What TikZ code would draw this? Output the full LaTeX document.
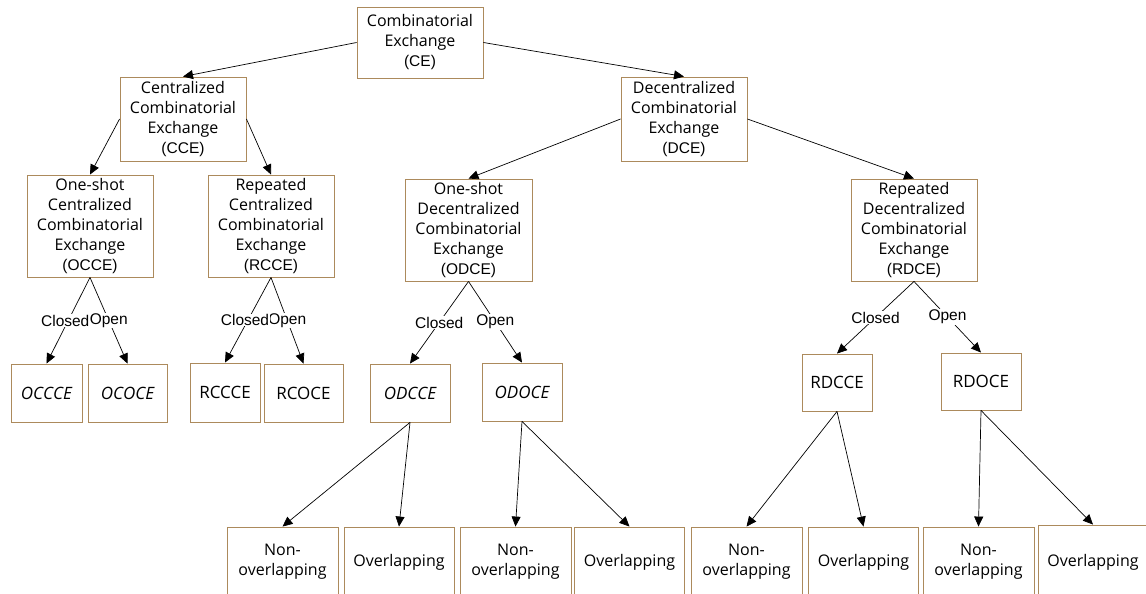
\documentclass[tikz,border=0pt]{standalone}
\usepackage{fontspec}
\setmainfont{Open Sans}
\newfontfamily\arialf{Liberation Sans}
\usetikzlibrary{arrows.meta}
\definecolor{boxbrown}{RGB}{172,138,92}
\newcommand{\abbr}[1]{{\arialf\fontsize{15.5}{20}\selectfont #1}}
\begin{document}
\begin{tikzpicture}[x=1pt,y=-1pt,
  box/.style={draw=boxbrown, line width=0.9pt, fill=white, rectangle, inner sep=0pt,
    align=center, font=\fontsize{16}{20}\selectfont},
  big/.style={box, minimum width=126pt, minimum height=102pt},
  leaf/.style={box, minimum height=58pt, font=\fontsize{17}{20}\selectfont},
  bottom/.style={box, minimum width=110pt, minimum height=70pt},
  arr/.style={draw=black, line width=0.7pt, -{Triangle[length=10pt,width=9pt]}},
  lbl/.style={fill=white, inner sep=0.5pt, font=\arialf\fontsize{15.5}{17}\selectfont}]
\useasboundingbox (0,0) rectangle (1146,594);
\clip (0,0) rectangle (1146,594);
\fill[white] (0,0) rectangle (1146,594);

% top levels
\node[box, minimum width=126pt, minimum height=71pt] (CE) at (420,42.5)
  {Combinatorial\\Exchange\\\abbr{(CE)}};
\node[box, minimum width=126pt, minimum height=84pt] (CCE) at (183,119)
  {Centralized\\Combinatorial\\Exchange\\\abbr{(CCE)}};
\node[box, minimum width=126pt, minimum height=84pt] (DCE) at (684,119)
  {Decentralized\\Combinatorial\\Exchange\\\abbr{(DCE)}};

\node[big] (OCCE) at (90,226)
  {One-shot\\Centralized\\Combinatorial\\Exchange\\\abbr{(OCCE)}};
\node[big] (RCCE) at (271,226)
  {Repeated\\Centralized\\Combinatorial\\Exchange\\\abbr{(RCCE)}};
\node[big, minimum width=127pt] (ODCE) at (468.5,230)
  {One-shot\\Decentralized\\Combinatorial\\Exchange\\\abbr{(ODCE)}};
\node[big] (RDCE) at (914,230)
  {Repeated\\Decentralized\\Combinatorial\\Exchange\\\abbr{(RDCE)}};

% closed / open variants
\node[leaf, minimum width=71pt] (OCCCE) at (46.5,393) {\itshape OCCCE};
\node[leaf, minimum width=79pt] (OCOCE) at (127.5,393) {\itshape OCOCE};
\node[leaf, minimum width=70pt, minimum height=59pt] (RCCCE) at (225,392.5) {RCCCE};
\node[leaf, minimum width=79pt] (RCOCE) at (303.5,393) {RCOCE};
\node[leaf, minimum width=80pt] (ODCCE) at (410,393) {\itshape ODCCE};
\node[leaf, minimum width=80pt] (ODOCE) at (522,392) {\itshape ODOCE};
\node[leaf, minimum width=70pt, minimum height=57pt] (RDCCE) at (837,382.5) {RDCCE};
\node[leaf, minimum width=80pt, minimum height=57pt] (RDOCE) at (981,381.5) {RDOCE};

% overlap variants
\node[bottom, minimum width=111pt] (N1) at (282.5,562) {Non-\\overlapping};
\node[bottom] (V1) at (399,562) {Overlapping};
\node[bottom, minimum width=111pt] (N2) at (515.5,562) {Non-\\overlapping};
\node[bottom] (V2) at (629.5,562) {Overlapping};
\node[bottom, minimum width=111pt] (N3) at (746.5,562) {Non-\\overlapping};
\node[bottom] (V3) at (863.5,562) {Overlapping};
\node[bottom, minimum width=111pt] (N4) at (978.5,562) {Non-\\overlapping};
\node[bottom, minimum height=74pt] (V4) at (1093,562) {Overlapping};

% hierarchy connectors
\draw[arr] (CE.west) -- (CCE.north);
\draw[arr] (CE.east) -- (DCE.north);
\draw[arr] (CCE.west) -- (OCCE.north);
\draw[arr] (CCE.east) -- (RCCE.north);
\draw[arr] (DCE.west) -- (ODCE.north);
\draw[arr] (DCE.east) -- (RDCE.north);

% closed / open connectors
\draw[arr] (OCCE.south) -- node[lbl] {Open} (OCOCE.north);
\draw[arr] (OCCE.south) -- node[lbl, xshift=-3pt] {Closed} (OCCCE.north);
\draw[arr] (RCCE.south) -- node[lbl] {Open} (RCOCE.north);
\draw[arr] (RCCE.south) -- node[lbl, xshift=-3pt] {Closed} (RCCCE.north);
\draw[arr] (ODCE.south) -- node[lbl] {Closed} (ODCCE.north);
\draw[arr] (ODCE.south) -- node[lbl] {Open} (ODOCE.north);
\draw[arr] (RDCE.south) -- node[lbl] {Closed} (RDCCE.north);
\draw[arr] (RDCE.south) -- node[lbl] {Open} (RDOCE.north);

% overlap connectors
\draw[arr] (ODCCE.south) -- (N1.north);
\draw[arr] (ODCCE.south) -- (V1.north);
\draw[arr] (ODOCE.south) -- (N2.north);
\draw[arr] (ODOCE.south) -- (V2.north);
\draw[arr] (RDCCE.south) -- (N3.north);
\draw[arr] (RDCCE.south) -- (V3.north);
\draw[arr] (RDOCE.south) -- (N4.north);
\draw[arr] (RDOCE.south) -- (V4.north);
\end{tikzpicture}
\end{document}
